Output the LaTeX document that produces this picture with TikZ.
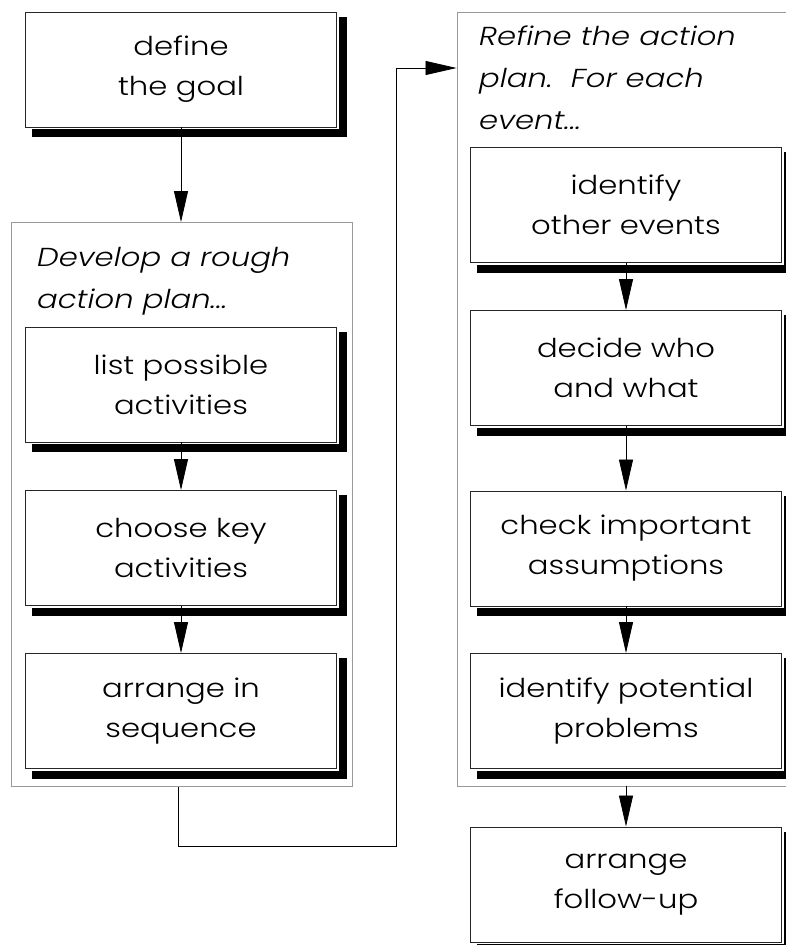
\documentclass[tikz,border=0pt]{standalone}
\usepackage{fontspec}
\setmainfont{Poppins Light}[ItalicFont={Poppins Light Italic}, FakeStretch=1.18]
\usetikzlibrary{arrows.meta,calc,backgrounds}

\tikzset{
  stepbox/.style={draw=black!85, line width=0.9pt, fill=white,
    minimum width=311pt, minimum height=115pt, inner sep=0pt, align=center,
    font=\fontsize{26}{40}\selectfont,
    preaction={draw=white, line width=4pt}},
  group/.style={draw=black!40, line width=0.9pt, inner sep=0pt},
  grouplabel/.style={anchor=north west, inner sep=0pt, align=left,
    font=\fontsize{26}{42}\selectfont\itshape},
  flow/.style={draw=black, line width=0.8pt,
    -{Triangle[length=31pt, width=14pt]}},
}

\begin{document}
\begin{tikzpicture}[x=1pt, y=-1pt]
\useasboundingbox (0,0) rectangle (786,945);
\clip (0,0) rectangle (786,945);

% the two phase frames
\node[group, minimum width=341pt, minimum height=564pt] (rough) at (181.5,504.5) {};
\node[group, minimum width=343pt, minimum height=774pt] (refine) at (628.5,399) {};

\node[grouplabel] (roughlabel) at (37,247) {Develop a rough\\action plan...};
\node[grouplabel] (refinelabel) at (479,26) {Refine the action\\plan.\ \ For each\\event...};

% steps
\node[stepbox] (goal) at (181,69.5) {define\\the goal};
\node[stepbox] (list) at (181,384.5) {list possible\\activities};
\node[stepbox] (choose) at (181,548) {choose key\\activities};
\node[stepbox] (arrange) at (181,711) {arrange in\\sequence};

\node[stepbox] (events) at (626,205) {identify\\other events};
\node[stepbox] (who) at (626,368) {decide who\\and what};
\node[stepbox] (check) at (626,548.5) {check important\\assumptions};
\node[stepbox] (problems) at (626,711) {identify potential\\problems};
\node[stepbox] (followup) at (626,884.5) {arrange\\follow-up};

% drop shadows behind the steps
\begin{scope}[on background layer]
  \foreach \n in {goal,list,choose,arrange,events,who,check,problems,followup}
    \fill[black] ($(\n.south west)+(7,10)$) rectangle ($(\n.north east)+(10,5)$);
\end{scope}

% connectors
\draw[flow] (goal.south) -- (rough.north -| goal.south);
\draw[flow] (list) -- (choose);
\draw[flow] (choose) -- (arrange);
\draw[flow] (events) -- (who);
\draw[flow] (who) -- (check);
\draw[flow] (check) -- (problems);
\draw[flow] (refine.south -| problems.south) -- (followup.north);

\coordinate (out) at ($(rough.south)+(-3,0)$);
\draw[flow] (out) -- ++(0,59) -| (396,68) -- (refine.west |- 0,68);
\end{tikzpicture}
\end{document}
